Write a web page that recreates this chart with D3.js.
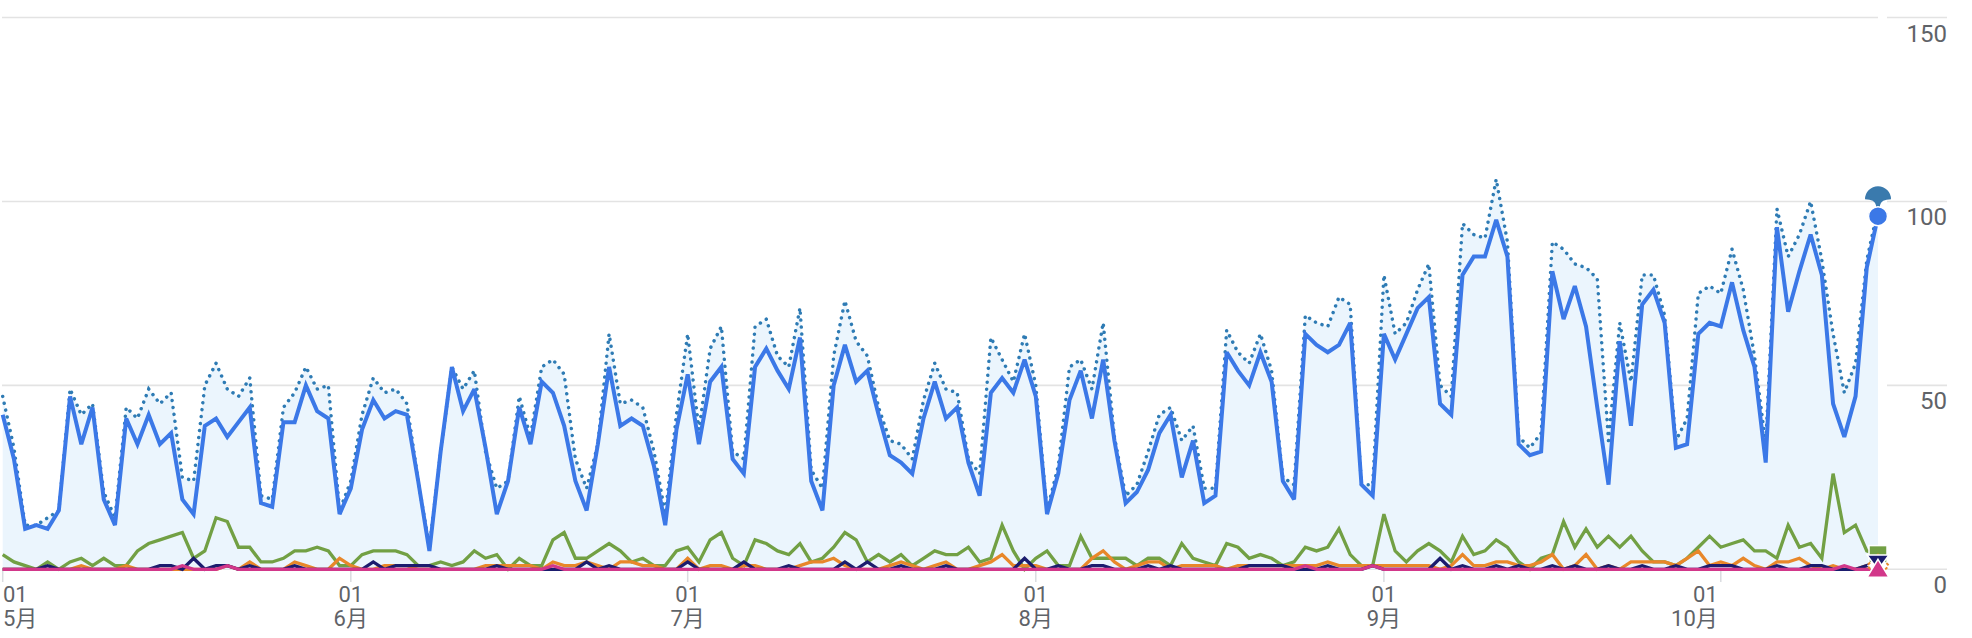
<!DOCTYPE html>
<html>
<head>
<meta charset="utf-8">
<script src="https://cdn.jsdelivr.net/npm/d3@7"></script>
<style>
  html, body { margin: 0; padding: 0; background: #fff; }
  svg { display: block; }
  text { font-family: Roboto, "Noto Sans CJK SC", "Noto Sans CJK JP", sans-serif; fill: #5f6368; }
</style>
</head>
<body>
<svg id="chart" width="1972" height="638"></svg>
<script>
// ---- data ----
const startDate = new Date(2024, 4, 1);
const endDate = new Date(2024, 9, 16);
const dates = d3.timeDay.range(startDate, endDate); // 168 days, 5/1 .. 10/15

const monthLabels = ["5月", "6月", "7月", "8月", "9月", "10月"];
const yTickValues = [0, 50, 100, 150];

const seriesMain = [
  42,30,11,12,11,16,47,34,44,19, 12,41,34,42,34,37,19,15,39,41,
  36,40,44,18,17,40,40,50,43,41, 15,22,38,46,41,43,42,24,5,32,
  55,43,49,33,15,24,44,34,51,48, 39,24,16,34,55,39,41,39,28,12,
  38,53,34,51,55,30,26,55,60,54, 49,63,24,16,50,61,51,54,42,31,
  29,26,41,51,41,44,29,20,48,52, 48,57,47,15,26,46,54,41,57,35,
  18,21,27,37,42,25,35,18,20,59, 54,50,59,51,24,19,64,61,59,61,
  67,23,20,64,57,64,71,74,45,42, 80,85,85,95,85,34,31,32,81,68,
  77,66,44,23,62,39,72,76,67,33, 34,64,67,66,78,65,55,29,93,70,
  81,91,80,45,36,47,82,96
];
const seriesCompare = [
  47,33,12,12,14,16,49,42,45,21, 14,44,41,49,45,48,25,24,50,56,
  49,47,52,20,19,44,48,55,49,50, 16,24,42,52,48,49,45,24,6,32,
  55,49,54,32,22,24,47,36,55,57, 53,30,22,34,64,45,46,44,32,15,
  42,64,38,60,66,32,30,66,68,58, 55,71,27,22,58,73,62,58,44,35,
  34,30,46,56,49,48,30,26,63,57, 51,64,50,16,28,55,57,49,67,36,
  20,23,32,42,44,35,39,22,22,65, 59,56,64,54,25,23,69,67,66,74,
  72,23,23,80,64,67,76,83,50,47, 94,91,90,106,89,36,33,37,89,87,
  83,82,79,35,67,51,80,80,69,35, 41,75,77,75,87,76,58,34,98,85,
  91,100,84,64,48,56,84,98
];
const seriesGreen = [
  4,2,1,0,2,0,2,3,1,3, 1,1,5,7,8,9,10,3,5,14,
  13,6,6,2,2,3,5,5,6,5, 1,1,4,5,5,5,4,1,1,2,
  1,2,5,3,4,0,3,1,1,8, 10,3,3,5,7,5,2,3,1,1,
  5,6,2,8,10,3,1,8,7,5, 4,7,2,3,6,10,8,2,4,2,
  4,1,3,5,4,4,6,2,3,12, 5,0,3,5,1,1,9,3,3,3,
  3,1,3,3,1,7,3,2,1,7, 6,3,4,3,1,2,6,5,6,11,
  4,1,1,15,5,2,5,7,5,2, 9,4,5,8,6,2,0,3,4,13,
  6,11,6,9,6,9,5,2,2,1, 3,6,9,6,7,8,5,5,3,12,
  6,7,3,26,10,12,5,4
];
const seriesOrange = [
  0,0,0,0,0,0,0,1,0,0, 0,1,0,0,0,0,0,0,0,0,
  1,0,2,0,0,0,2,1,0,0, 3,1,0,0,1,1,1,0,0,0,
  0,0,0,1,1,1,1,1,0,2, 1,1,2,1,0,2,2,1,1,0,
  0,3,0,1,1,0,1,1,0,0, 0,1,2,2,3,1,0,0,0,1,
  2,1,0,1,2,0,0,1,2,4, 1,1,1,0,0,0,0,3,5,2,
  0,1,2,2,0,1,1,1,1,0, 1,1,1,1,1,1,1,1,2,1,
  1,1,1,1,1,1,1,1,0,1, 4,1,1,2,2,1,1,2,4,0,
  1,4,0,1,0,2,2,2,2,1, 3,5,1,2,1,3,1,0,2,2,
  3,1,0,1,0,0,1,1
];
const seriesNavy = [
  0,0,0,0,1,0,0,0,0,0, 0,0,0,0,1,1,0,3,0,1,
  1,0,1,0,0,0,1,0,0,0, 0,0,0,2,0,1,1,1,1,0,
  0,0,0,0,1,0,0,0,0,0, 0,0,2,0,1,0,0,0,0,0,
  0,2,0,0,0,0,2,0,0,0, 1,0,0,0,0,2,0,2,0,0,
  1,0,0,0,1,0,0,0,0,0, 0,3,0,0,1,0,0,1,1,0,
  0,0,1,0,1,0,0,0,0,0, 0,1,1,1,1,0,0,0,1,0,
  0,0,1,0,0,0,0,0,3,0, 1,0,0,1,0,1,0,0,1,0,
  1,0,0,1,0,0,1,0,0,1, 0,0,1,1,1,0,0,0,1,0,
  0,1,1,0,0,0,1,2
];
const seriesPink = [
  0,0,0,0,0,0,0,0,0,0, 0,0,0,0,0,0,1,0,0,0,
  1,0,0,0,0,0,0,0,0,0, 0,0,0,0,0,0,0,0,0,0,
  0,0,0,0,0,0,0,0,0,1, 0,0,0,0,0,0,0,0,0,0,
  0,0,0,0,0,0,0,0,0,0, 0,0,0,0,0,0,0,0,0,0,
  0,0,0,0,0,0,0,0,0,0, 0,0,0,0,0,0,0,0,0,0,
  0,0,0,0,0,0,0,0,0,0, 0,0,0,0,0,0,1,0,0,0,
  0,0,1,0,0,0,0,0,0,0, 0,0,0,0,0,0,0,0,0,0,
  0,0,0,0,0,0,0,0,0,0, 0,0,0,0,0,0,0,0,0,0,
  0,0,0,0,1,0,0,0
];

// ---- layout ----
const svg = d3.select("#chart");
const plotLeft = 2.7, plotRight = 1878;
const x = d3.scaleTime().domain([dates[0], dates[dates.length - 1]]).range([plotLeft, plotRight]);
const y = d3.scaleLinear().domain([0, 150]).range([569.3, 17.5]);

const C = {
  main: "#3b78e7", compare: "#2e7bb4", area: "#ebf5fd",
  green: "#72a044", orange: "#e8872a", navy: "#1b1c6e", pink: "#d2378a",
  grid: "#e3e3e3"
};

// gridlines
const grid = svg.append("g");
yTickValues.forEach(v => {
  grid.append("line").attr("x1", 2).attr("x2", plotRight).attr("y1", y(v)).attr("y2", y(v))
    .attr("stroke", C.grid).attr("stroke-width", 1.6);
  grid.append("line").attr("x1", 1887).attr("x2", 1947).attr("y1", y(v)).attr("y2", y(v))
    .attr("stroke", C.grid).attr("stroke-width", 1.6);
});

// y labels
svg.append("g").selectAll("text").data(yTickValues).join("text")
  .attr("x", 1947).attr("y", v => y(v) + 24)
  .attr("text-anchor", "end").attr("font-size", 24)
  .text(v => v);

// x ticks
const monthTicks = d3.timeMonth.range(startDate, endDate);
const xa = svg.append("g");
monthTicks.forEach((m, i) => {
  const tx = x(m);
  xa.append("line").attr("x1", tx).attr("x2", tx).attr("y1", 571).attr("y2", 582)
    .attr("stroke", "#dadce0").attr("stroke-width", 1.5);
  let anchor = "middle", lx = tx;
  if (i === 0) { anchor = "start"; lx = 3; }
  if (i === monthTicks.length - 1) { anchor = "end"; lx = tx - 3; }
  xa.append("text").attr("x", lx).attr("y", 602).attr("text-anchor", anchor)
    .attr("font-size", 22).text(d3.timeFormat("%d")(m));
  xa.append("text").attr("x", lx).attr("y", 626).attr("text-anchor", anchor)
    .attr("font-size", 22).text(monthLabels[i]);
});

// area under comparison line
const area = d3.area().x((d, i) => x(dates[i])).y0(y(0)).y1(d => y(d));
svg.append("path").datum(seriesCompare).attr("d", area).attr("fill", C.area);

const line = d3.line().x((d, i) => x(dates[i])).y(d => y(d));
function drawLine(data, color, width, dash) {
  const p = svg.append("path").datum(data).attr("d", line).attr("fill", "none")
    .attr("stroke", color).attr("stroke-width", width).attr("stroke-linejoin", "miter")
    .attr("stroke-miterlimit", 3);
  if (dash) p.attr("stroke-dasharray", dash).attr("stroke-linecap", "round");
  return p;
}
drawLine(seriesGreen, C.green, 3.3);
drawLine(seriesOrange, C.orange, 3.3);
drawLine(seriesNavy, C.navy, 3.3);
drawLine(seriesPink, C.pink, 3.3);
drawLine(seriesCompare, C.compare, 3.5, "0.01 7");
drawLine(seriesMain, C.main, 4);

// end markers
const last = dates.length - 1;
const ex = x(dates[last]);
const m = svg.append("g");
m.append("rect").attr("x", ex - 9).attr("y", y(seriesGreen[last]) - 9).attr("width", 18).attr("height", 18)
  .attr("fill", C.green).attr("stroke", "#fff").attr("stroke-width", 1.5);
const oy = y(seriesOrange[last]);
m.append("path").attr("d", `M${ex},${oy - 11} L${ex + 11},${oy} L${ex},${oy + 11} L${ex - 11},${oy} Z`)
  .attr("fill", "#fff").attr("stroke", C.orange).attr("stroke-width", 2).attr("stroke-dasharray", "3 3");
const ny = y(seriesNavy[last]);
m.append("path").attr("d", `M${ex - 11},${ny - 7} L${ex + 11},${ny - 7} L${ex},${ny + 8} Z`)
  .attr("fill", C.navy).attr("stroke", "#fff").attr("stroke-width", 1.5);
const py = y(seriesPink[last]);
m.append("path").attr("d", `M${ex},${py - 10} L${ex + 11},${py + 8} L${ex - 11},${py + 8} Z`)
  .attr("fill", C.pink).attr("stroke", "#fff").attr("stroke-width", 1.5);
const cy = y(seriesMain[last]);
const tipY = cy - 9;
m.append("path").attr("d",
  `M${ex - 13},${tipY - 8} A13,13 0 0 1 ${ex + 13},${tipY - 8} Q${ex + 3},${tipY - 8} ${ex + 2},${tipY - 2} L${ex + 2},${tipY} L${ex - 2},${tipY} L${ex - 2},${tipY - 2} Q${ex - 3},${tipY - 8} ${ex - 13},${tipY - 8} Z`)
  .attr("fill", "#3a7aad");
m.append("circle").attr("cx", ex).attr("cy", cy).attr("r", 9.5)
  .attr("fill", C.main).attr("stroke", "#fff").attr("stroke-width", 1.5);
</script>
</body>
</html>
